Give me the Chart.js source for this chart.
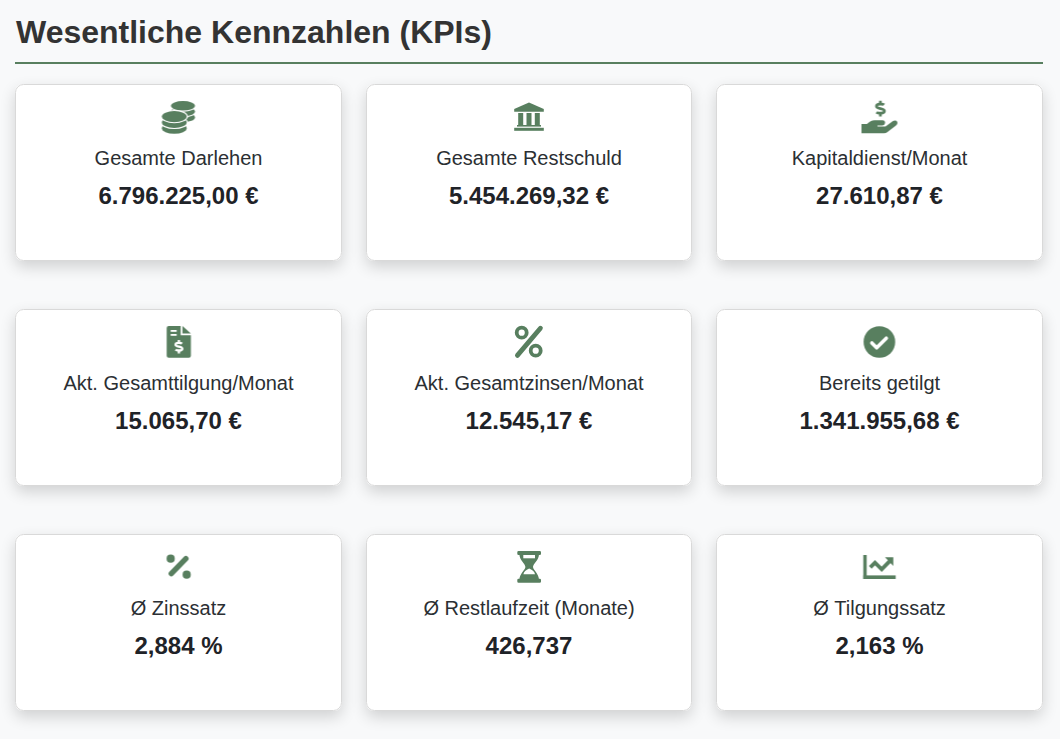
<!DOCTYPE html>
<html lang="de">
<head>
<meta charset="utf-8">
<title>Wesentliche Kennzahlen (KPIs)</title>
<script src="https://cdn.jsdelivr.net/npm/chart.js@4"></script>
<style>
  html, body { margin: 0; padding: 0; background: #f8f9fa; }
  canvas { display: block; }
</style>
</head>
<body>
<canvas id="kpis" width="1060" height="739"></canvas>
<script>
const pageTitle = "Wesentliche Kennzahlen (KPIs)";
const columns = ["links", "mitte", "rechts"];
const rows = ["oben", "zentrum", "unten"];

const kpiLabels = [
    "Gesamte Darlehen", "Gesamte Restschuld", "Kapitaldienst/Monat",
    "Akt. Gesamttilgung/Monat", "Akt. Gesamtzinsen/Monat", "Bereits getilgt",
    "Ø Zinssatz", "Ø Restlaufzeit (Monate)", "Ø Tilgungssatz"
];
const kpiValues = [
    6796225.00, 5454269.32, 27610.87,
    15065.70, 12545.17, 1341955.68,
    2.884, 426.737, 2.163
];
const kpiDecimals = [2, 2, 2, 2, 2, 2, 3, 3, 3];
const kpiUnits = [" €", " €", " €", " €", " €", " €", " %", "", " %"];

const GREEN = "#587f5f";
const FONT = '"Liberation Sans", Arial, sans-serif';

// keep the context opaque so the text gets the same smoothing as a normal page
const canvas = document.getElementById("kpis");
canvas.getContext("2d", { alpha: false });

function line(c, pts) {
    c.beginPath();
    pts.forEach((p, i) => i ? c.lineTo(p[0], p[1]) : c.moveTo(p[0], p[1]));
}

function dollar(c, x, y, s, color) {
    c.save();
    c.translate(x, y);
    c.scale(s, s);
    c.strokeStyle = color;
    c.lineWidth = 2.6;
    c.lineCap = "butt";
    c.beginPath();
    c.moveTo(3.6, -3.6);
    c.bezierCurveTo(2.5, -4.6, -3.8, -5, -3.8, -2.3);
    c.bezierCurveTo(-3.8, 0.5, 3.9, -0.5, 3.9, 2.3);
    c.bezierCurveTo(3.9, 5, -2.5, 4.6, -3.8, 3.4);
    c.stroke();
    c.beginPath();
    c.moveTo(0, -7.6);
    c.lineTo(0, -4.6);
    c.moveTo(0, 4.6);
    c.lineTo(0, 7.6);
    c.stroke();
    c.restore();
}

function coinStack(c, x, top, rx, ry, bands) {
    // bottom band first, each higher disc cuts a white gap into the one below
    for (let i = bands; i >= 0; i--) {
        const y = top + ry + i * 5.8;
        c.fillStyle = "#fff";
        c.beginPath();
        c.ellipse(x, y, rx + 1.2, ry + 1.1, 0, 0, Math.PI * 2);
        c.fill();
        if (i < bands) c.fillRect(x - rx - 1.2, y, rx * 2 + 2.4, 1);
        c.fillStyle = GREEN;
        c.beginPath();
        c.ellipse(x, y, rx, ry, 0, 0, Math.PI * 2);
        c.fill();
    }
}

const iconPainters = [
    function coins(c) {
        coinStack(c, 4.5, -16, 12, 4.8, 2);
        coinStack(c, -4.2, -6, 12.4, 5.6, 2);
    },
    function bank(c) {
        c.fillStyle = GREEN;
        line(c, [[0, -14.5], [14.8, -8], [14.8, -5.3], [-14.8, -5.3], [-14.8, -8]]);
        c.fill();
        [-10.8, -2.5, 5.8].forEach((x) => c.fillRect(x, -4, 5, 12));
        c.fillRect(-12, 8, 24, 1.6);
        c.fillRect(-14.8, 10.8, 29.6, 3);
    },
    function handDollar(c) {
        dollar(c, 0.9, -8.4, 1.04, GREEN);
        c.fillStyle = GREEN;
        c.beginPath();
        c.moveTo(-18, 7);
        c.lineTo(-12.5, 7);
        c.quadraticCurveTo(-9, 3.2, -5, 3.2);
        c.lineTo(3, 3.2);
        c.quadraticCurveTo(5.8, 3.4, 5.6, 6);
        c.quadraticCurveTo(5.3, 8.3, 3, 8.4);
        c.lineTo(-2, 8.4);
        c.lineTo(-2, 9.6);
        c.lineTo(6, 9.6);
        c.lineTo(13.5, 4);
        c.quadraticCurveTo(16.5, 2.8, 17.9, 5);
        c.quadraticCurveTo(18.4, 7.2, 16.5, 8.6);
        c.lineTo(8, 15);
        c.quadraticCurveTo(6.6, 16.3, 4.5, 16.3);
        c.lineTo(-18, 16.3);
        c.closePath();
        c.fill();
    },
    function invoice(c) {
        c.fillStyle = GREEN;
        c.beginPath();
        c.moveTo(-11.8, -14);
        c.quadraticCurveTo(-11.8, -16, -9.8, -16);
        c.lineTo(2.2, -16);
        c.lineTo(2.2, -6.8);
        c.lineTo(12.4, -6.8);
        c.lineTo(12.4, 13.7);
        c.quadraticCurveTo(12.4, 15.7, 10.4, 15.7);
        c.lineTo(-9.8, 15.7);
        c.quadraticCurveTo(-11.8, 15.7, -11.8, 13.7);
        c.closePath();
        c.fill();
        line(c, [[4, -16], [12.4, -8.6], [4, -8.6]]);
        c.fill();
        c.fillStyle = "#fff";
        c.fillRect(-7.8, -12, 6, 1.8);
        c.fillRect(-7.8, -8, 6, 1.8);
        dollar(c, 0.4, 4.7, 0.88, "#fff");
    },
    function percent(c) {
        c.strokeStyle = GREEN;
        c.lineWidth = 3.8;
        [[-7.3, -9.3], [6.7, 8.7]].forEach((p) => {
            c.beginPath();
            c.arc(p[0], p[1], 5, 0, Math.PI * 2);
            c.stroke();
        });
        c.lineWidth = 4.8;
        c.lineCap = "round";
        line(c, [[11.4, -13.8], [-11.6, 13.4]]);
        c.stroke();
    },
    function circleCheck(c) {
        c.fillStyle = GREEN;
        c.beginPath();
        c.arc(-0.1, 0, 15.8, 0, Math.PI * 2);
        c.fill();
        c.strokeStyle = "#fff";
        c.lineWidth = 3.6;
        c.lineCap = "round";
        c.lineJoin = "round";
        line(c, [[-7.6, 1], [-2.8, 5.8], [6.8, -3.8]]);
        c.stroke();
    },
    function percentSmall(c) {
        c.fillStyle = GREEN;
        [[-7.8, -8.3], [8.2, 7.7]].forEach((p) => {
            c.beginPath();
            c.arc(p[0], p[1], 4.1, 0, Math.PI * 2);
            c.fill();
        });
        c.strokeStyle = GREEN;
        c.lineWidth = 5.4;
        c.lineCap = "round";
        line(c, [[7.4, -8.4], [-7.2, 6.6]]);
        c.stroke();
    },
    function hourglass(c) {
        c.fillStyle = GREEN;
        c.beginPath();
        c.roundRect(-11.7, -16, 23.7, 4, 1.2);
        c.roundRect(-11.7, 11.7, 23.7, 4, 1.2);
        c.fill();
        c.beginPath();
        c.moveTo(-9.6, -13);
        c.bezierCurveTo(-9.6, -6.5, -3.8, -3.5, -3.6, -0.1);
        c.bezierCurveTo(-3.8, 3, -9.6, 6.5, -9.6, 13);
        c.lineTo(10, 13);
        c.bezierCurveTo(10, 6.5, 4.2, 3, 4, -0.1);
        c.bezierCurveTo(4.2, -3.5, 10, -6.5, 10, -13);
        c.closePath();
        c.fill();
        c.fillStyle = "#fff";
        c.fillRect(-5.7, -12, 11.7, 3.3);
        c.beginPath();
        c.moveTo(0.2, 1.6);
        c.quadraticCurveTo(5.4, 3.8, 6, 7.3);
        c.lineTo(-5.6, 7.3);
        c.quadraticCurveTo(-5, 3.8, 0.2, 1.6);
        c.closePath();
        c.fill();
    },
    function chartLine(c) {
        c.fillStyle = GREEN;
        c.fillRect(-16.2, -12, 3.4, 24);
        c.fillRect(-16.2, 8.4, 32.4, 3.6);
        c.strokeStyle = GREEN;
        c.lineWidth = 3.8;
        line(c, [[-9.2, 0.4], [-4.5, -4.3], [2.2, 2.3], [10, -5.6]]);
        c.stroke();
        line(c, [[5.5, -9.7], [13.8, -9.7], [13.8, -1]]);
        c.fill();
    }
];

const kpiIcons = iconPainters.map((paint) => {
    const icon = document.createElement("canvas");
    icon.width = 44;
    icon.height = 44;
    const c = icon.getContext("2d");
    c.translate(22, 22);
    paint(c);
    return icon;
});

function formatValue(i) {
    return kpiValues[i].toLocaleString("de-DE", {
        minimumFractionDigits: kpiDecimals[i],
        maximumFractionDigits: kpiDecimals[i]
    }) + kpiUnits[i];
}

//Page background, heading, and the card behind every icon point
const kpiCards = {
    id: "kpiCards",
    beforeDraw(chart) {
        const c = chart.ctx;
        c.save();
        c.fillStyle = "#f8f9fa";
        c.fillRect(0, 0, chart.width, chart.height);
        c.fillStyle = "#333333";
        c.font = "bold 32px " + FONT;
        c.textAlign = "left";
        c.textBaseline = "alphabetic";
        c.fillText(pageTitle, 16, 43);
        c.fillStyle = GREEN;
        c.fillRect(15, 62, 1028, 2);
        c.restore();
    },
    beforeDatasetsDraw(chart) {
        const c = chart.ctx;
        chart.getDatasetMeta(0).data.forEach((point, i) => {
            const left = Math.ceil(point.x - 163.5);
            const width = Math.floor(point.x + 163.5) - left;
            const top = Math.round(point.y - 33);
            c.save();
            c.shadowColor = "rgba(0,0,0,0.16)";
            c.shadowBlur = 15;
            c.shadowOffsetY = 6;
            c.fillStyle = "#ffffff";
            c.beginPath();
            c.roundRect(left, top, width, 177, 8);
            c.fill();
            c.restore();
            c.save();
            c.strokeStyle = "#d9d9d9";
            c.lineWidth = 1;
            c.beginPath();
            c.roundRect(left + 0.5, top + 0.5, width - 1, 176, 8);
            c.stroke();
            c.textAlign = "center";
            c.textBaseline = "alphabetic";
            c.fillStyle = "#2b2f33";
            c.font = "20px " + FONT;
            c.fillText(kpiLabels[i], point.x, point.y + 48);
            c.fillStyle = "#1f2328";
            c.font = "bold 24px " + FONT;
            c.fillText(formatValue(i), point.x, point.y + 87);
            c.restore();
        });
    }
};

const points = [];
rows.forEach((r) => columns.forEach((col) => points.push({ x: col, y: r })));

new Chart(canvas, {
    type: "scatter",
    plugins: [kpiCards],
    data: {
        datasets: [{
            data: points,
            pointStyle: kpiIcons,
            pointRadius: 20,
            clip: false
        }]
    },
    options: {
        responsive: false,
        devicePixelRatio: 1,
        animation: false,
        layout: { autoPadding: false, padding: { left: 3.25, right: 5.25, top: 4.5, bottom: 59.5 } },
        plugins: { legend: { display: false }, tooltip: { enabled: false } },
        scales: {
            x: { type: "category", labels: columns, offset: true, display: false },
            y: { type: "category", labels: rows, offset: true, display: false }
        }
    }
});
</script>
</body>
</html>
